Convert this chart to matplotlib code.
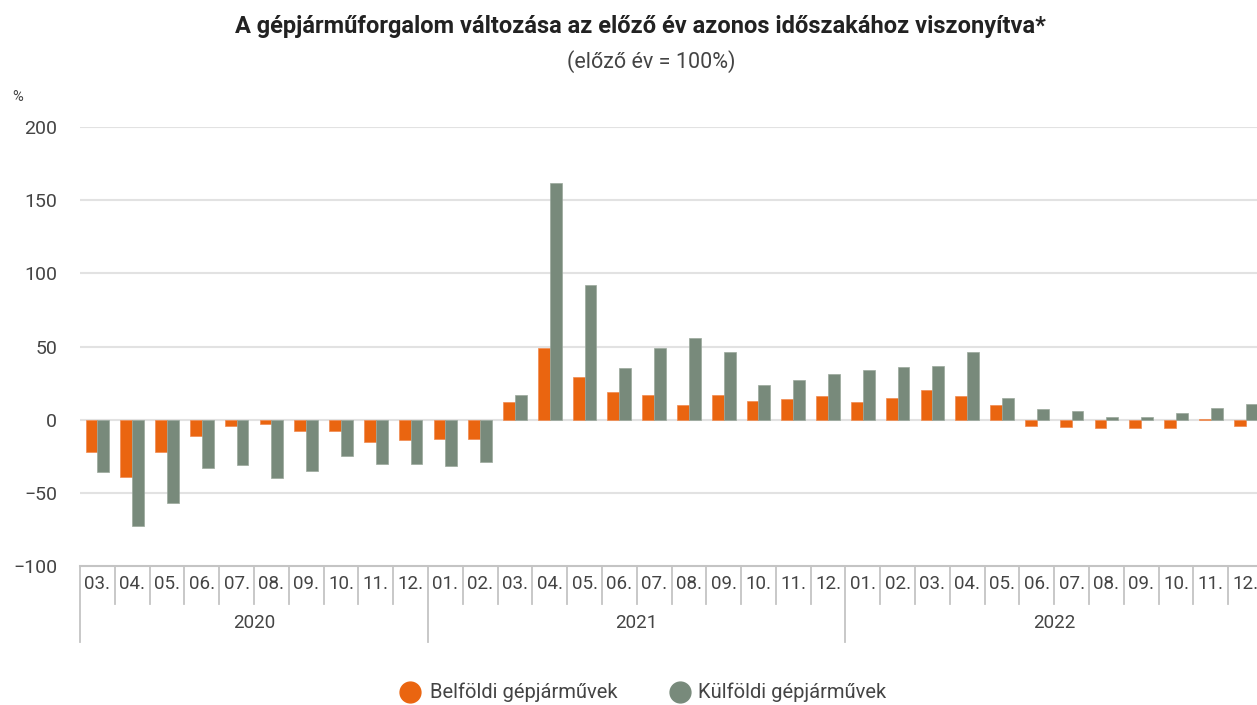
import numpy as np
import matplotlib.pyplot as plt
from matplotlib.lines import Line2D

# adatok
honapok = ['03.', '04.', '05.', '06.', '07.', '08.', '09.', '10.', '11.', '12.',
           '01.', '02.', '03.', '04.', '05.', '06.', '07.', '08.', '09.', '10.', '11.', '12.',
           '01.', '02.', '03.', '04.', '05.', '06.', '07.', '08.', '09.', '10.', '11.', '12.']
evek = ['2020', '2021', '2022']
ev_honapszam = [10, 12, 12]

belfoldi = [-22, -39, -22, -11, -4, -3, -8, -8, -15, -14,
            -13, -13, 12, 49, 29, 19, 17, 10, 17, 13, 14, 16,
            12, 15, 20, 16, 10, -4, -5, -6, -6, -6, 0.7, -4]
kulfoldi = [-36, -73, -57, -33, -31, -40, -35, -25, -30, -30,
            -32, -29, 17, 162, 92, 35, 49, 56, 46, 24, 27, 31,
            34, 36, 37, 46, 15, 7, 6, 1.5, 1.5, 4.5, 8, 11]

narancs = '#EA6510'
szurke = '#788A7B'
szoveg = '#444444'
vonal = '#C4C4C4'

plt.rcParams['font.family'] = ['Roboto', 'DejaVu Sans']

W, H = 1257, 705
fig = plt.figure(figsize=(W / 100, H / 100), dpi=100)
ax = fig.add_axes([80 / W, 1 - 566 / H, 1183 / W, (566 - 127) / H])

x = np.arange(len(honapok))
sz = 0.34
ax.bar(x - sz / 2, belfoldi, sz, color=narancs, edgecolor='#F08A50', linewidth=0.5, zorder=3)
ax.bar(x + sz / 2, kulfoldi, sz, color=szurke, edgecolor='#9AA89C', linewidth=0.5, zorder=3)

ax.set_xlim(-0.5, len(honapok) - 0.5)
ax.set_ylim(-100, 200)
ax.set_yticks(np.arange(-100, 201, 50))
ax.set_yticklabels(['\u2212100', '\u221250', '0', '50', '100', '150', '200'])
for t in np.arange(-50, 201, 50):
    ax.axhline(t, color='#E2E2E2', lw=1.5, zorder=1)
for s in ['top', 'right', 'left']:
    ax.spines[s].set_visible(False)
ax.spines['bottom'].set_color(vonal)
ax.spines['bottom'].set_linewidth(1.5)
ax.tick_params(axis='y', length=0, pad=16.5, labelsize=14, labelcolor=szoveg)
ax.set_xticks([])

# hónap- és évcímkék, elválasztók
trans = ax.get_xaxis_transform()
px = 1 / (566 - 127)
for i, h in enumerate(honapok):
    ax.text(i, -18 * px, h, transform=trans, ha='center', va='center',
            fontsize=13.5, color=szoveg)
hatarok = np.concatenate([[0], np.cumsum(ev_honapszam)]) - 0.5
for i in range(len(honapok) + 1):
    b = i - 0.5
    hossz = 76 if b in hatarok else 38
    ax.add_line(Line2D([b, b], [0, -hossz * px], transform=trans, color=vonal,
                       lw=1.3, clip_on=False))
for i, ev in enumerate(evek):
    kozep = (hatarok[i] + hatarok[i + 1]) / 2
    ax.text(kozep, -57 * px, ev, transform=trans, ha='center', va='center',
            fontsize=13.5, color=szoveg)

fig.text(18 / W, 1 - 97 / H, '%', ha='center', va='center', fontsize=10.5, color=szoveg)

fig.text(640 / W, 1 - 27 / H,
         'A gépjárműforgalom változása az előző év azonos időszakához viszonyítva*',
         ha='center', va='center', fontsize=17, fontweight='bold', color='#222222')
fig.text(651 / W, 1 - 62 / H, '(előző év = 100%)', ha='center', va='center',
         fontsize=15.5, color=szoveg)

# jelmagyarázat
fig.add_artist(Line2D([410 / W], [1 - 692 / H], marker='o', markersize=15, color=narancs,
                      transform=fig.transFigure))
fig.text(430 / W, 1 - 692 / H, 'Belföldi gépjárművek', ha='left', va='center',
         fontsize=14.5, color=szoveg)
fig.add_artist(Line2D([680 / W], [1 - 692 / H], marker='o', markersize=15, color=szurke,
                      transform=fig.transFigure))
fig.text(698 / W, 1 - 692 / H, 'Külföldi gépjárművek', ha='left', va='center',
         fontsize=14.5, color=szoveg)

fig.savefig('out.png', dpi=100)
